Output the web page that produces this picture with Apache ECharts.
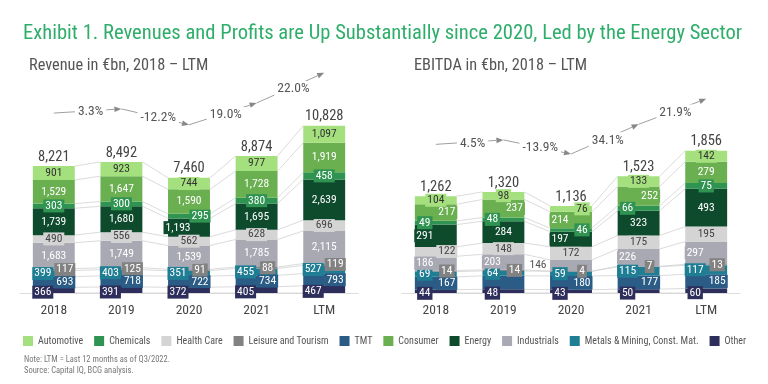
<!DOCTYPE html>
<html><head><meta charset="utf-8">
<script src="https://cdn.jsdelivr.net/npm/echarts@6.0.0/dist/echarts.min.js"></script>
<style>html,body{margin:0;padding:0;background:#fff}#c{width:768px;height:384px}</style>
</head><body><div id="c"></div>
<script>
// ---------------- DATA ----------------
const categories = ['2018','2019','2020','2021','LTM'];
// stack order, bottom -> top
const sectors = ['Other','TMT','Metals & Mining, Const. Mat.','Leisure and Tourism','Industrials','Health Care','Energy','Chemicals','Consumer','Automotive'];
const legendOrder = ['Automotive','Chemicals','Health Care','Leisure and Tourism','TMT','Consumer','Energy','Industrials','Metals & Mining, Const. Mat.','Other'];

// Revenue in €bn
const revOther       = [366, 391, 372, 405, 467];
const revTMT         = [693, 718, 722, 734, 793];
const revMetals      = [399, 403, 351, 455, 527];
const revLeisure     = [117, 125, 91, 88, 119];
const revIndustrials = [1683, 1749, 1539, 1785, 2115];
const revHealth      = [490, 556, 562, 628, 696];
const revEnergy      = [1739, 1680, 1193, 1695, 2639];
const revChemicals   = [303, 300, 295, 380, 458];
const revConsumer    = [1529, 1647, 1590, 1728, 1919];
const revAutomotive  = [901, 923, 744, 977, 1097];
const revTotals      = [8221, 8492, 7460, 8874, 10828];
const revGrowth      = ['3.3%', '-12.2%', '19.0%', '22.0%'];

// EBITDA in €bn
const ebOther       = [44, 48, 43, 50, 60];
const ebTMT         = [167, 176, 180, 177, 185];
const ebMetals      = [69, 64, 59, 115, 117];
const ebLeisure     = [14, 14, 4, 7, 13];
const ebIndustrials = [186, 203, 146, 226, 297];
const ebHealth      = [122, 148, 172, 175, 195];
const ebEnergy      = [291, 284, 197, 323, 493];
const ebChemicals   = [49, 48, 46, 66, 75];
const ebConsumer    = [217, 237, 214, 252, 279];
const ebAutomotive  = [104, 98, 76, 133, 142];
const ebTotals      = [1262, 1320, 1136, 1523, 1856];
const ebGrowth      = ['4.5%', '-13.9%', '34.1%', '21.9%'];

// ---------------- STYLE ----------------
const FONT = "'Liberation Sans Narrow', 'Roboto Condensed', Roboto, sans-serif";
const colors = {
  'Other':'#2d2e5b', 'TMT':'#2a5c86', 'Metals & Mining, Const. Mat.':'#1f7e93', 'Leisure and Tourism':'#828282',
  'Industrials':'#a9a9b4', 'Health Care':'#d4d4d4', 'Energy':'#0e4b2c', 'Chemicals':'#2f9351',
  'Consumer':'#6aaf50', 'Automotive':'#a5e07e'
};
const labelColors = {
  'Health Care':'#444', 'Automotive':'#333'
};
// label placement per sector per category: L left, R right, C centre, O outside-left, H hidden
const revPlace = ['LLLLL','RRRRR','LLLLL','RRRRR','CCCCC','CCCCC','CCLCC','CCRCC','CCCCC','CCCCC'];
const ebPlace  = ['LLLLL','RHRRR','LLLLL','RRRRR','LLOLL','RCCCC','LCLCC','LLRLC','RRLRC','CCRCC'];

const revStack = [revOther, revTMT, revMetals, revLeisure, revIndustrials, revHealth, revEnergy, revChemicals, revConsumer, revAutomotive];
const ebStack  = [ebOther, ebTMT, ebMetals, ebLeisure, ebIndustrials, ebHealth, ebEnergy, ebChemicals, ebConsumer, ebAutomotive];

const fmt = v => v.toLocaleString('en-US');

function barSeries(axis, stackVals, place) {
  return stackVals.map((arr, k) => {
    const name = sectors[k];
    const data = arr.map((v, i) => {
      const p = place[k][i];
      const dy = (k === 0) ? 2 : 0;
      const lab = {};
      if (p === 'L') lab.offset = [-11, dy];
      else if (p === 'R') lab.offset = [11, dy];
      else if (p === 'O') { lab.offset = [-33, 0]; lab.color = '#555'; lab.backgroundColor = 'transparent'; }
      else if (p === 'H') lab.show = false;
      else lab.offset = [0, dy];
      return { value: v, label: lab };
    });
    return {
      type: 'bar', name, stack: 's' + axis, xAxisIndex: axis, yAxisIndex: axis,
      barWidth: '62%', z: 3,
      itemStyle: { color: colors[name] },
      label: {
        show: true, position: 'inside', fontFamily: FONT, fontSize: 11.5,
        color: labelColors[name] || '#fff', backgroundColor: colors[name],
        padding: [1, 2, 0, 2], formatter: p => fmt(p.value)
      },
      emphasis: { disabled: true },
      data
    };
  });
}

function connectorSeries(axis, stackVals) {
  let run = categories.map(() => 0);
  const cum = [run.slice()];
  stackVals.forEach(arr => { run = run.map((v, i) => v + arr[i]); cum.push(run.slice()); });
  const data = [];
  for (let k = 0; k < cum.length; k++)
    for (let i = 0; i < categories.length - 1; i++) data.push([i, cum[k][i], cum[k][i + 1]]);
  return {
    type: 'custom', xAxisIndex: axis, yAxisIndex: axis, silent: true, z: 1,
    encode: { x: 0, y: 1 }, data,
    renderItem(params, api) {
      const i = api.value(0);
      const a = api.coord([i, api.value(1)]);
      const b = api.coord([i + 1, api.value(2)]);
      const hw = api.size([1, 0])[0] * 0.31;
      return { type: 'line', shape: { x1: a[0] + hw, y1: a[1], x2: b[0] - hw, y2: b[1] },
        style: { stroke: '#d2d2d2', lineWidth: 0.8 } };
    }
  };
}

function totalSeries(axis, totals) {
  return {
    type: 'custom', xAxisIndex: axis, yAxisIndex: axis, silent: true, z: 6,
    encode: { x: 0, y: 1 }, data: totals.map((t, i) => [i, t]),
    renderItem(params, api) {
      const p = api.coord([api.value(0), api.value(1)]);
      return { type: 'text', x: p[0], y: p[1] - 9,
        style: { text: fmt(totals[params.dataIndex]), fill: '#444', font: '14.5px ' + FONT, align: 'center', verticalAlign: 'middle' } };
    }
  };
}

function growthSeries(axis, totals, growth, off) {
  return {
    type: 'custom', xAxisIndex: axis, yAxisIndex: axis, silent: true, z: 7,
    encode: { x: 0, y: 1 }, data: growth.map((g, i) => [i, totals[i], totals[i + 1]]),
    renderItem(params, api) {
      const i = api.value(0);
      const a = api.coord([i, api.value(1)]); a[1] -= off;
      const b = api.coord([i + 1, api.value(2)]); b[1] -= off;
      const ang = Math.atan2(b[1] - a[1], b[0] - a[0]);
      const L = 7, W = 2.8;
      const base = [b[0] - L * Math.cos(ang), b[1] - L * Math.sin(ang)];
      const p1 = [base[0] + W * Math.sin(ang), base[1] - W * Math.cos(ang)];
      const p2 = [base[0] - W * Math.sin(ang), base[1] + W * Math.cos(ang)];
      return { type: 'group', children: [
        { type: 'line', shape: { x1: a[0], y1: a[1], x2: base[0], y2: base[1] }, style: { stroke: '#a0a0a0', lineWidth: 1 } },
        { type: 'polygon', shape: { points: [b, p1, p2] }, style: { fill: '#888' } },
        { type: 'text', x: (a[0] + b[0]) / 2 + 3, y: (a[1] + b[1]) / 2 + 1,
          style: { text: growth[params.dataIndex], fill: '#555', font: '13.5px ' + FONT, align: 'center', verticalAlign: 'middle',
                   backgroundColor: '#fff', padding: [1, 3] } }
      ] };
    }
  };
}

const xAxisBase = {
  type: 'category', data: categories,
  axisTick: { show: false },
  axisLine: { lineStyle: { color: '#dcdcdc', width: 1 } },
  axisLabel: { color: '#444', fontSize: 13.5, fontFamily: FONT, margin: 11 }
};

const chart = echarts.init(document.getElementById('c'), null, { renderer: 'canvas' });
chart.setOption({
  animation: false,
  backgroundColor: '#fff',
  textStyle: { fontFamily: FONT },
  title: [
    { text: 'Exhibit 1. Revenues and Profits are Up Substantially since 2020, Led by the Energy Sector', left: 18, top: 18,
      textStyle: { color: '#2fae6b', fontSize: 20.6, fontWeight: 'normal', fontFamily: FONT } },
    { text: 'Revenue in €bn, 2018 – LTM', left: 24, top: 53, textStyle: { color: '#555', fontSize: 16.3, fontWeight: 'normal', fontFamily: FONT } },
    { text: 'EBITDA in €bn, 2018 – LTM', left: 409, top: 53, textStyle: { color: '#555', fontSize: 16.3, fontWeight: 'normal', fontFamily: FONT } },
    { text: 'Note: LTM = Last 12 months as of Q3/2022.\nSource: Capital IQ, BCG analysis.', left: 19, top: 349,
      textStyle: { color: '#777', fontSize: 8.5, fontWeight: 'normal', fontFamily: FONT, lineHeight: 11 } }
  ],
  legend: {
    data: legendOrder, left: 18, top: 331, icon: 'rect', itemWidth: 10, itemHeight: 10, itemGap: 11,
    textStyle: { color: '#555', fontSize: 10, fontFamily: FONT }, selectedMode: false
  },
  grid: [
    { left: 20, right: 410, top: 100, bottom: 91 },
    { left: 402, right: 28, top: 100, bottom: 91 }
  ],
  xAxis: [ Object.assign({ gridIndex: 0 }, xAxisBase), Object.assign({ gridIndex: 1 }, xAxisBase) ],
  yAxis: [
    { type: 'value', gridIndex: 0, min: 0, max: 12500, show: false },
    { type: 'value', gridIndex: 1, min: 0, max: 2520, show: false }
  ],
  series: [
    connectorSeries(0, revStack), connectorSeries(1, ebStack),
    ...barSeries(0, revStack, revPlace), ...barSeries(1, ebStack, ebPlace),
    totalSeries(0, revTotals), totalSeries(1, ebTotals),
    growthSeries(0, revTotals, revGrowth, 53), growthSeries(1, ebTotals, ebGrowth, 52)
  ]
});
</script></body></html>
